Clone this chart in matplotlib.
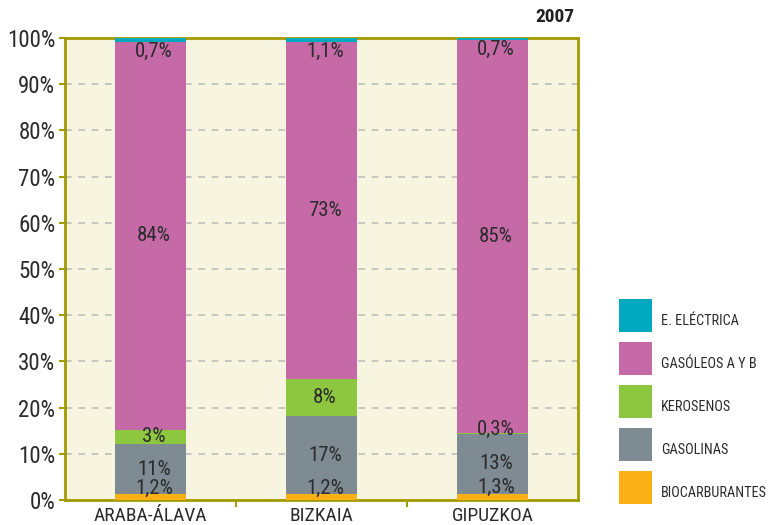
import matplotlib
matplotlib.use("Agg")
import matplotlib.pyplot as plt
from matplotlib.patches import Rectangle
import numpy as np

plt.rcParams['font.family'] = ['Roboto Condensed', 'DejaVu Sans']
plt.rcParams['font.stretch'] = 'condensed'

territorios = ["ARABA-ÁLAVA", "BIZKAIA", "GIPUZKOA"]
fuentes = ["BIOCARBURANTES", "GASOLINAS", "KEROSENOS", "GASÓLEOS A Y B", "E. ELÉCTRICA"]
biocarburantes = [1.2, 1.2, 1.3]
gasolinas = [11, 17, 13]
kerosenos = [3, 8, 0.3]
gasoleos = [84, 73, 85]
electrica = [0.7, 1.1, 0.7]
colores = ["#FBB116", "#7F8B93", "#8DC63F", "#C56AA7", "#00A9BD"]
anio = "2007"

series = [biocarburantes, gasolinas, kerosenos, gasoleos, electrica]
W, H = 771, 525

fig = plt.figure(figsize=(W / 100, H / 100), dpi=100)
ax = fig.add_axes([65 / W, 25 / H, 513 / W, 462 / H])
ax.set_facecolor("#F7F5DF")

x = np.arange(len(territorios))
ancho = 0.42
base = np.zeros(len(territorios))
for vals, col in zip(series, colores):
    ax.bar(x, vals, ancho, bottom=base, color=col, zorder=3)
    base = base + np.array(vals)


def fmt(v):
    return (f"{v:g}").replace(".", ",") + "%"


# labels: centred on the segment, small ones nudged so they stay readable
base = np.zeros(len(territorios))
for k, vals in enumerate(series):
    for i, v in enumerate(vals):
        if k == 0:
            y = base[i] + v + 1.4
        elif k == 4:
            y = base[i] - 2.0
        elif v < 1:
            y = base[i] + v + 0.7
        else:
            y = base[i] + v / 2
        ax.text(x[i] + 0.02, y, fmt(v), ha="center", va="center", fontsize=15,
                color="#2b2b2b", zorder=4)
    base = base + np.array(vals)

ax.set_xlim(-0.5, 2.5)
ax.set_ylim(0, 100)
ax.set_yticks(np.arange(0, 101, 10))
ax.set_yticklabels([f"{t}%" for t in range(0, 101, 10)], fontsize=16.5, color="#2b2b2b")
ax.set_xticks(x)
ax.set_xticklabels(territorios, fontsize=14, color="#2b2b2b")
ax.set_xticks([0.5, 1.5], minor=True)
ax.tick_params(axis="x", which="major", length=0, pad=5)
ax.tick_params(axis="x", which="minor", length=5, color="#A39A00", width=1.5)
ax.tick_params(axis="y", length=4, color="#A39A00", width=1.5, pad=3)

ax.yaxis.grid(True, linestyle=(0, (4, 4)), color="#BDBDBD", linewidth=1.2, zorder=1)
for s in ax.spines.values():
    s.set_color("#A39A00")
    s.set_linewidth(2)

fig.text(574 / W, 1 - 17 / H, anio, ha="right", va="center", fontsize=14,
         fontweight="bold", color="#222222")

# legend boxes, top to bottom: E. ELÉCTRICA ... BIOCARBURANTES
for j, (nombre, col) in enumerate(zip(fuentes[::-1], colores[::-1])):
    top = 299 + 43 * j
    fig.add_artist(Rectangle((619 / W, 1 - (top + 33) / H), 33 / W, 33 / H,
                             transform=fig.transFigure, facecolor=col, edgecolor="none"))
    fig.text(661 / W, 1 - (top + 22) / H, nombre, ha="left", va="center",
             fontsize=10.3, color="#2b2b2b")

fig.savefig("out.png", dpi=100)
